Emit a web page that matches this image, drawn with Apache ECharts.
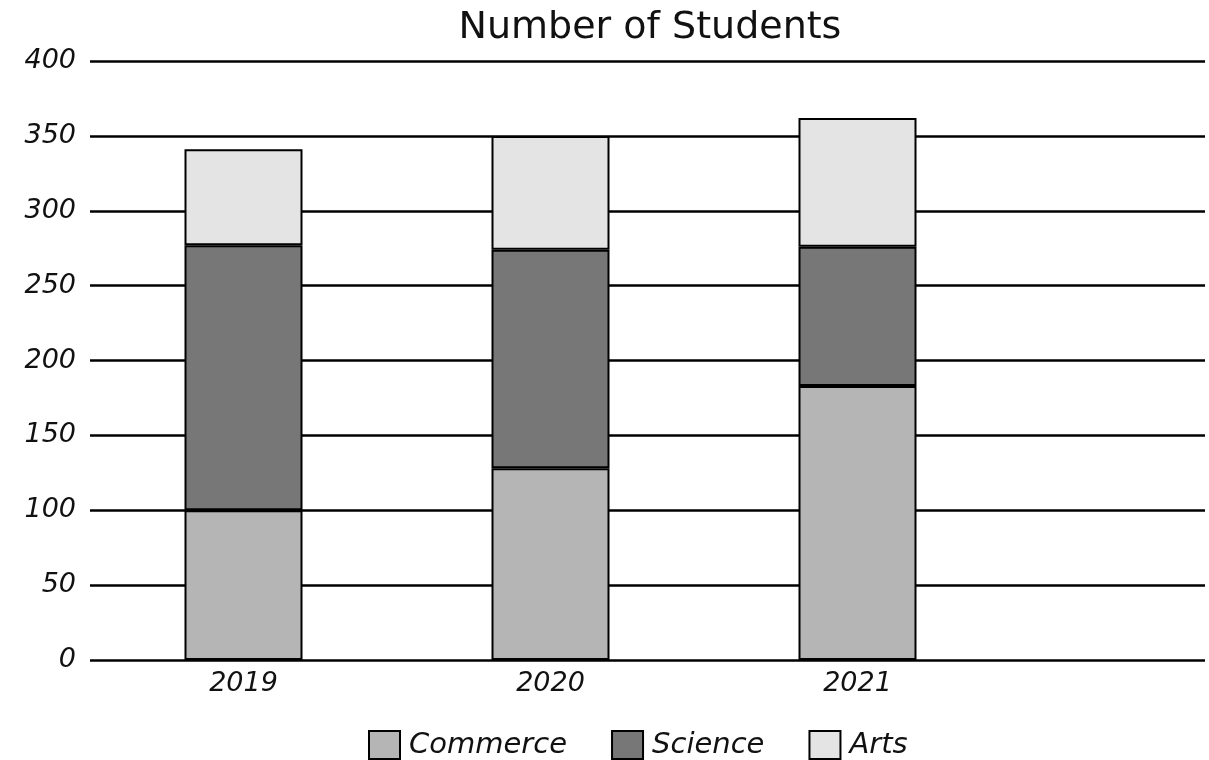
<!DOCTYPE html>
<html><head><meta charset="utf-8">
<script src="https://cdn.jsdelivr.net/npm/echarts@6/dist/echarts.min.js"></script>
<style>html,body{margin:0;padding:0;background:#fff}#c{width:1209px;height:760px}</style>
</head><body><div id="c"></div>
<script>
const categories = ['2019', '2020', '2021'];
const commerce = [100, 128, 183];
const science = [177, 146, 93];
const arts = [64, 76, 86];
const yTicks = { min: 0, max: 400, interval: 50 };

const font = "'DejaVu Sans', sans-serif";
const chart = echarts.init(document.getElementById('c'));
const border = { borderColor: '#000', borderWidth: 2 };
chart.setOption({
  animation: false,
  backgroundColor: '#fff',
  title: { text: 'Number of Students', left: 645, textAlign: 'center', top: 4,
    textStyle: { fontFamily: font, fontSize: 38, fontWeight: 'normal', color: '#111' } },
  legend: {
    top: 725, left: 363, itemWidth: 31, itemHeight: 28, itemGap: 44,
    icon: 'rect',
    textStyle: { fontFamily: font, fontStyle: 'italic', fontSize: 29, color: '#111', padding: [0, 0, 0, 4] },
    data: ['Commerce', 'Science', 'Arts']
  },
  grid: [
    { left: 90, right: 198, top: 61, bottom: 100 },
    { left: 90, right: 4, top: 61, bottom: 100 }
  ],
  xAxis: [
    { type: 'category', data: categories, gridIndex: 0,
      axisLine: { show: false }, axisTick: { show: false },
      axisLabel: { fontFamily: font, fontStyle: 'italic', fontSize: 27, color: '#111', margin: 10 } },
    { type: 'value', gridIndex: 1, show: false, min: 0, max: 1 }
  ],
  yAxis: [
    { type: 'value', gridIndex: 0, min: yTicks.min, max: yTicks.max, interval: yTicks.interval,
      axisLine: { show: false }, axisTick: { show: false }, splitLine: { show: false },
      axisLabel: { fontFamily: font, fontStyle: 'italic', fontSize: 27, color: '#111', margin: 14 } },
    { type: 'value', gridIndex: 1, min: yTicks.min, max: yTicks.max, interval: yTicks.interval,
      axisLine: { show: false }, axisTick: { show: false }, axisLabel: { show: false },
      splitLine: { show: true, lineStyle: { color: '#000', width: 2.5 } } }
  ],
  series: [
    { name: 'Commerce', type: 'bar', stack: 's', data: commerce, barWidth: 118,
      itemStyle: Object.assign({ color: '#b5b5b5' }, border), z: 3 },
    { name: 'Science', type: 'bar', stack: 's', data: science, barWidth: 118,
      itemStyle: Object.assign({ color: '#777777' }, border), z: 3 },
    { name: 'Arts', type: 'bar', stack: 's', data: arts, barWidth: 118,
      itemStyle: Object.assign({ color: '#e4e4e4' }, border), z: 3 }
  ]
});
</script></body></html>
